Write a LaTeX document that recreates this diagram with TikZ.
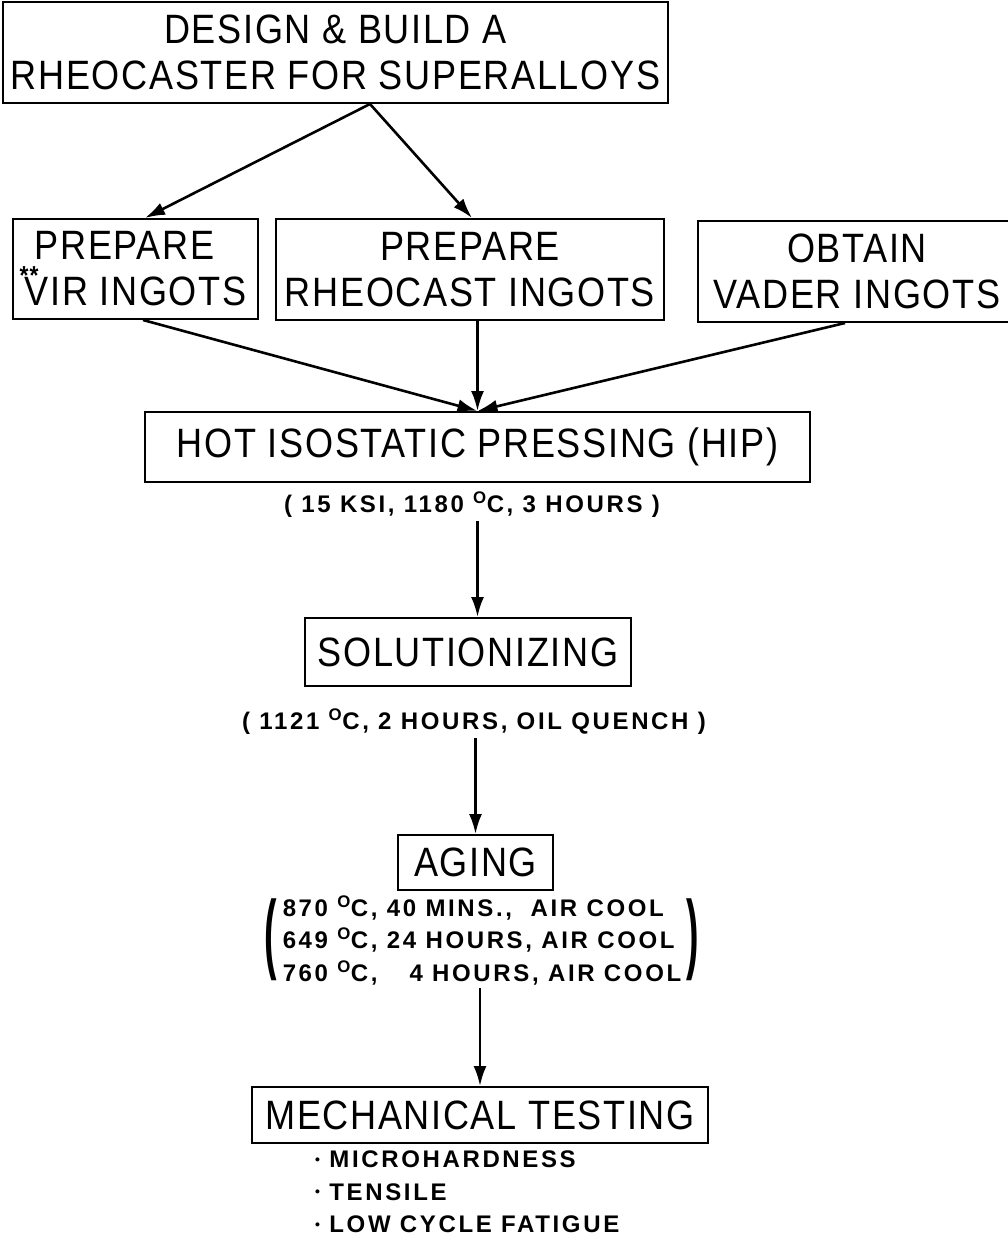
\documentclass[tikz,border=0pt]{standalone}
\usepackage{fontspec}
\setmainfont{Liberation Sans}
\newfontfamily\stagefont{Liberation Sans}[FakeStretch=0.88, LetterSpace=4]
\newfontfamily\notefont{Liberation Sans}[LetterSpace=11]
\usetikzlibrary{arrows.meta}
\newcommand{\degc}{\textsuperscript{O}C}
\newcommand{\dotitem}{\raisebox{0.16em}{\fontsize{14}{14}\selectfont\textbullet}\ }

\begin{document}
\begin{tikzpicture}[x=1pt, y=-1pt,
  stage/.style={draw, line width=2pt, inner sep=0pt, align=center,
                font=\stagefont\fontsize{41}{46}\selectfont},
  note/.style={inner sep=3pt, align=left,
               font=\notefont\bfseries\fontsize{24}{32.5}\selectfont},
  paren/.style={inner sep=0pt, font=\bfseries\fontsize{44}{44}\selectfont},
  flow/.style={-{Latex[length=20pt,width=13pt]}, line width=2.6pt},
]
\useasboundingbox (0,0) rectangle (1008,1244);
% design stage
\node[stage, minimum width=665pt, minimum height=101pt] (design) at (335.5,52.5)
  {DESIGN \& BUILD A\\RHEOCASTER FOR SUPERALLOYS};
% three ingot sources
\node[stage, minimum width=245pt, minimum height=100pt, align=left] (vir) at (135.5,269)
  {\hspace{10pt}PREPARE\\\rlap{\hspace{-5pt}\raisebox{21pt}[0pt][0pt]{\fontsize{26}{26}\bfseries **}}VIR INGOTS};
\node[stage, minimum width=388pt, minimum height=101pt] (rheo) at (470,269.5)
  {PREPARE\\RHEOCAST INGOTS};
\node[stage, minimum width=318pt, minimum height=101pt] (vader) at (857,271.5)
  {OBTAIN\\VADER INGOTS};
% hip
\node[stage, minimum width=665pt, minimum height=70pt] (hip) at (477.5,447)
  {HOT ISOSTATIC PRESSING (HIP)};
\node[note] (hipnote) at (472,505) {( 15 KSI, 1180 \degc, 3 HOURS )};
% solutionizing
\node[stage, minimum width=326pt, minimum height=68pt] (sol) at (468,652)
  {SOLUTIONIZING};
\node[note] (solnote) at (474,722) {( 1121 \degc, 2 HOURS, OIL QUENCH )};
% aging, three heat steps in parens
\node[stage, minimum width=155pt, minimum height=55pt] (aging) at (475.5,862.5)
  {AGING};
\node[note] (heat) at (482,940)
  {870 \degc, 40 MINS.,\ \ AIR COOL\\
   649 \degc, 24 HOURS, AIR COOL\\
   760 \degc, \ \phantom{2}4 HOURS, AIR COOL};
\node[paren, anchor=east] (lpar) at ([xshift=-2pt]heat.west)
  {\scalebox{0.85}[2]{(}};
\node[paren, anchor=west] (rpar) at ([xshift=2pt]heat.east)
  {\scalebox{0.85}[2]{)}};
% testing
\node[stage, minimum width=456pt, minimum height=56pt] (mech) at (480,1115)
  {MECHANICAL TESTING};
\node[note, anchor=north west] (tests) at (312,1148)
  {\dotitem MICROHARDNESS\\\dotitem TENSILE\\\dotitem LOW CYCLE FATIGUE};
% arrows
\draw[flow] ([xshift=34.5pt]design.south) -- ([xshift=9.5pt]vir.north);
\draw[flow] ([xshift=34.5pt]design.south) -- ([xshift=2pt]rheo.north);
\draw[flow] ([xshift=7.5pt]vir.south) -- (hip.north);
\draw[flow] (rheo.south -| hip.north) -- (hip.north);
\draw[flow] ([xshift=-12pt]vader.south) -- (hip.north);
\draw[flow] (hipnote.south -| hip.south) -- (hip.south |- sol.north);
\draw[flow] (solnote.south -| aging.north) -- (aging.north);
\draw[flow] (heat.south -| mech.north) -- (mech.north);
\end{tikzpicture}
\end{document}
